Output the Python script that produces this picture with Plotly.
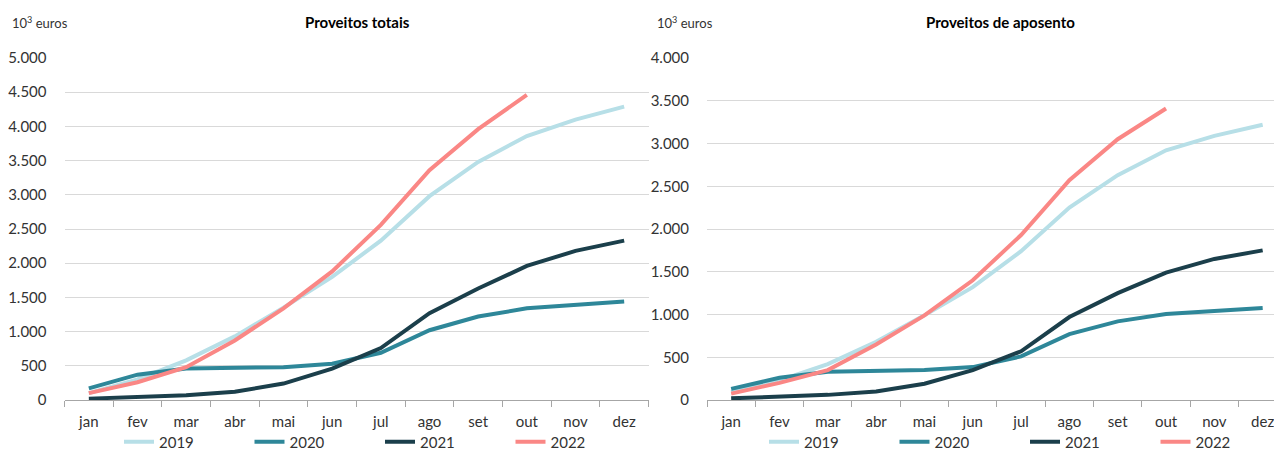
import plotly.graph_objects as go

months = ["jan", "fev", "mar", "abr", "mai", "jun", "jul", "ago", "set", "out", "nov", "dez"]
years = ["2019", "2020", "2021", "2022"]
colors = {"2019": "#b7dfe7", "2020": "#2e8799", "2021": "#1b3f4b", "2022": "#fa8785"}

totais_2019 = [100, 300, 580, 930, 1350, 1800, 2330, 2980, 3480, 3860, 4100, 4290]
totais_2020 = [170, 370, 460, 470, 480, 530, 690, 1020, 1220, 1340, 1390, 1440]
totais_2021 = [20, 40, 70, 120, 240, 460, 760, 1270, 1630, 1960, 2180, 2330]
totais_2022 = [100, 260, 480, 870, 1340, 1880, 2560, 3360, 3960, 4460]

aposento_2019 = [90, 230, 420, 680, 990, 1320, 1740, 2250, 2630, 2920, 3090, 3220]
aposento_2020 = [130, 260, 330, 340, 350, 385, 510, 770, 920, 1005, 1040, 1075]
aposento_2021 = [20, 40, 60, 100, 190, 350, 570, 970, 1250, 1490, 1650, 1750]
aposento_2022 = [75, 200, 350, 650, 990, 1400, 1930, 2570, 3050, 3410]

totais = dict(zip(years, [totais_2019, totais_2020, totais_2021, totais_2022]))
aposento = dict(zip(years, [aposento_2019, aposento_2020, aposento_2021, aposento_2022]))

# the page body has an 8px margin, so the figure is sized to fill the rest of the window
OFF = 8
W, H = 1282 - OFF, 452 - OFF
FONT = "Lato, 'Open Sans', sans-serif"


def px(x):
    return (x - OFF) / W


def py(y):
    return (H - (y - OFF)) / H


fig = go.Figure()
for y in years:
    fig.add_trace(go.Scatter(x=months[:len(totais[y])], y=totais[y], name=y, mode="lines",
                             line=dict(color=colors[y], width=4), xaxis="x", yaxis="y",
                             legend="legend"))
for y in years:
    fig.add_trace(go.Scatter(x=months[:len(aposento[y])], y=aposento[y], name=y, mode="lines",
                             line=dict(color=colors[y], width=4), xaxis="x2", yaxis="y2",
                             legend="legend2"))

xcommon = dict(type="category", categoryorder="array", categoryarray=months,
               showgrid=False, showline=True, linecolor="#a6a6a6", linewidth=1.2,
               ticks="outside", tickson="boundaries", ticklen=6, tickcolor="#a6a6a6",
               ticklabelstandoff=8, ticklabeloverflow="allow",
               tickfont=dict(family=FONT, size=15, color="#333333"), fixedrange=True)
ycommon = dict(showgrid=True, gridcolor="#d9d9d9", gridwidth=1.3, zeroline=False,
               showline=False, ticks="", tickformat=",.0f", ticklabelstandoff=17,
               tickfont=dict(family=FONT, size=15, color="#333333"), fixedrange=True)

ydom = [py(400), py(58)]
fig.update_layout(
    width=W, height=H,
    margin=dict(l=0, r=0, t=0, b=0, autoexpand=False),
    paper_bgcolor="white", plot_bgcolor="white",
    separators=",.",
    font=dict(family=FONT, color="#333333"),
    xaxis=dict(xcommon, domain=[px(64.5), px(648.5)], range=[-0.5, 11.5], anchor="y"),
    yaxis=dict(ycommon, domain=ydom, range=[0, 5000], dtick=500, anchor="x"),
    xaxis2=dict(xcommon, domain=[px(707), 1.0], range=[-0.5, 11.4], anchor="y2"),
    yaxis2=dict(ycommon, domain=ydom, range=[0, 4000], dtick=500, anchor="x2"),
    legend=dict(orientation="h", x=px(119), y=py(442), xanchor="left", yanchor="middle",
                font=dict(family=FONT, size=15, color="#333333"), entrywidth=85.5,
                itemwidth=30, tracegroupgap=0, bgcolor="rgba(0,0,0,0)"),
    legend2=dict(orientation="h", x=px(764), y=py(442), xanchor="left", yanchor="middle",
                 font=dict(family=FONT, size=15, color="#333333"), entrywidth=85.5,
                 itemwidth=30, tracegroupgap=0, bgcolor="rgba(0,0,0,0)"),
    annotations=[
        dict(text="10<sup>3</sup> euros", x=px(10), y=py(22), xref="paper", yref="paper",
             xanchor="left", yanchor="middle", showarrow=False,
             font=dict(family=FONT, size=13, color="#333333")),
        dict(text="<b>Proveitos totais</b>", x=px(357), y=py(22), xref="paper", yref="paper",
             xanchor="center", yanchor="middle", showarrow=False,
             font=dict(family=FONT, size=15, color="#000000")),
        dict(text="10<sup>3</sup> euros", x=px(655), y=py(22), xref="paper", yref="paper",
             xanchor="left", yanchor="middle", showarrow=False,
             font=dict(family=FONT, size=13, color="#333333")),
        dict(text="<b>Proveitos de aposento</b>", x=px(1000), y=py(22), xref="paper", yref="paper",
             xanchor="center", yanchor="middle", showarrow=False,
             font=dict(family=FONT, size=15, color="#000000")),
    ],
)

fig.write_html("out.html")
